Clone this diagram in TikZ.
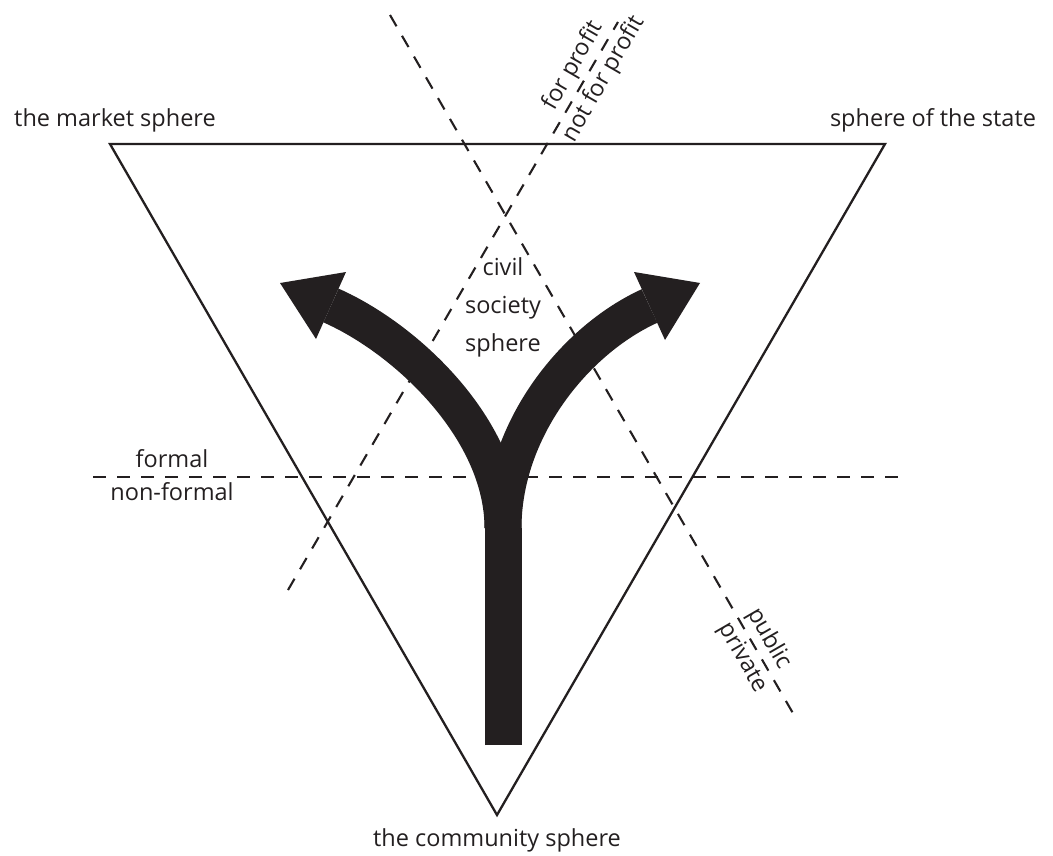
\documentclass[tikz,border=0pt]{standalone}
\usepackage{fontspec}
\setmainfont{Open Sans}
\usetikzlibrary{calc}
\definecolor{ink}{HTML}{231F20}
\begin{document}
\begin{tikzpicture}[x=1pt,y=-1pt,
  lbl/.style={font=\fontsize{23.5}{28}\selectfont, inner sep=0pt, text=ink},
  dsh/.style={line width=2.1pt, dash pattern=on 13pt off 11pt, draw=ink},
  tri/.style={line width=2.3pt, line join=miter, draw=ink},
  shaft/.style={line width=37pt, line cap=butt, draw=ink},
  head/.style={fill=ink, draw=none}]
\useasboundingbox (0,0) rectangle (1053,856);
% triangle
\coordinate (TL) at (110,144);
\coordinate (TR) at (885,144);
\coordinate (B) at (497,815);
\draw[tri] (TL) -- (TR) -- (B) -- cycle;
% dashed lines
\coordinate (h1) at (93,477);
\coordinate (h2) at (900,477);
\draw[dsh] (h1) -- (h2);
\coordinate (a1) at (288,590);
\coordinate (a2) at (618,22);
\draw[dsh] (a1) -- (a2);
\coordinate (b1) at (390,15);
\coordinate (b2) at (794,715);
\draw[dsh] (b1) -- (b2);
% arrow
\coordinate (t0) at (503,745);
\coordinate (t1) at (503,528);
\coordinate (lb) at (331,305.5);
\coordinate (rb) at (649.5,306);
\draw[shaft] (t0) -- (t1);
\draw[shaft] (t1) .. controls (503,430) and (407,339) .. (lb);
\draw[shaft] (t1) .. controls (503,430) and (574,340.5) .. (rb);
\fill[head] (280,283) -- (346,272) -- (316,339) -- cycle;
\fill[head] (700,283) -- (634,272) -- (665,340) -- cycle;
% labels
\node[lbl] (market) at (115,120) {the market sphere};
\node[lbl] (state) at (933,120) {sphere of the state};
\node[lbl] (community) at (497,840) {the community sphere};
\node[lbl, align=center, font=\fontsize{23.5}{38}\selectfont] (civil) at (503,307) {civil\\society\\sphere};
\node[lbl] (formal) at (172,459) {formal};
\node[lbl] (nonformal) at (172,492) {non-formal};
\node[lbl, rotate=60, anchor=south, inner sep=4.5pt] (forprofit) at ($(a1)!0.908!(a2)$) {for profit};
\node[lbl, rotate=60, anchor=north, inner sep=4.5pt] (notforprofit) at ($(a1)!0.914!(a2)$) {not for profit};
\node[lbl, rotate=-60, anchor=south, inner sep=4.5pt] (public) at ($(b1)!0.903!(b2)$) {public};
\node[lbl, rotate=-60, anchor=north, inner sep=4.5pt] (private) at ($(b1)!0.907!(b2)$) {private};
\end{tikzpicture}
\end{document}
